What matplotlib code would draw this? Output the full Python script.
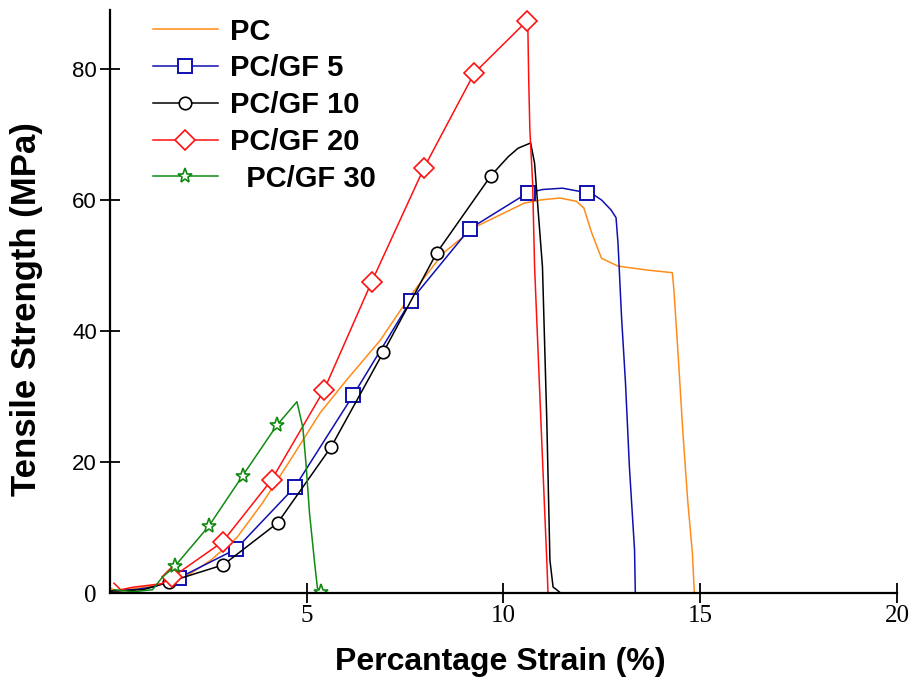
import matplotlib
matplotlib.use("Agg")
import matplotlib.pyplot as plt

# values
pc_x = [0.0, 0.17, 0.42, 1.26, 1.90, 2.56, 3.23, 3.87, 4.53, 5.34, 6.01, 6.87, 7.61,
        8.47, 9.29, 10.52, 10.94, 11.43, 11.85, 12.04, 12.24, 12.49, 12.91, 13.65,
        14.29, 14.33, 14.43, 14.56, 14.68, 14.80, 14.85]
pc_y = [0.8, 0.2, 0.5, 1.2, 2.4, 5.0, 8.5, 13.7, 19.8, 27.5, 32.5, 38.6, 45.2,
        51.9, 55.9, 59.5, 60.0, 60.3, 59.8, 58.8, 55.0, 51.1, 49.9, 49.3,
        48.9, 46.3, 37.1, 24.4, 14.2, 6.1, 0.0]

gf5_x = [0.0, 0.6, 1.1, 1.75, 3.20, 4.70, 6.18, 7.64, 9.14, 10.62, 11.0, 11.5, 12.12,
         12.29, 12.49, 12.73, 12.86, 12.91, 13.0, 13.1, 13.2, 13.33, 13.35]
gf5_y = [0.3, 0.5, 0.9, 2.3, 6.7, 16.2, 30.2, 44.6, 55.6, 61.1, 61.6, 61.8, 61.1,
         60.8, 60.0, 58.5, 57.3, 53.4, 42.1, 32.1, 19.2, 6.6, 0.0]
gf5_marks = [3, 4, 5, 6, 7, 8, 9, 12]

gf10_x = [0.0, 0.84, 1.50, 2.88, 4.26, 5.62, 6.95, 8.30, 9.68, 10.12, 10.37, 10.69,
          10.79, 10.86, 10.99, 11.1, 11.18, 11.26, 11.33, 11.45]
gf10_y = [0.3, 0.5, 1.7, 4.3, 10.7, 22.3, 36.8, 51.9, 63.7, 66.6, 67.9, 68.7,
          65.6, 60.0, 49.8, 26.4, 5.0, 0.9, 0.6, 0.0]
gf10_marks = [2, 3, 4, 5, 6, 7, 8]

gf20_x = [0.1, 0.27, 0.6, 1.3, 1.58, 2.86, 4.11, 5.44, 6.65, 7.98, 9.26, 10.59,
          10.62, 10.64, 10.67, 10.74, 10.79, 10.96, 11.11, 11.13]
gf20_y = [1.5, 0.5, 0.9, 1.4, 2.4, 7.8, 17.3, 31.0, 47.5, 64.9, 79.4, 87.3,
          86.0, 78.6, 70.7, 62.6, 49.8, 24.9, 3.5, 0.0]
gf20_marks = [4, 5, 6, 7, 8, 9, 10, 11]

gf30_x = [0.1, 0.6, 1.08, 1.33, 1.65, 2.51, 3.37, 4.24, 4.75, 4.9, 4.98, 5.07,
          5.2, 5.27, 5.35, 5.5]
gf30_y = [0.5, 0.2, 0.5, 2.4, 4.1, 10.2, 17.9, 25.6, 29.2, 25.3, 19.8, 12.2,
          4.6, 0.8, 0.2, 0.0]
gf30_marks = [4, 5, 6, 7, 14]

labels = ["PC", "PC/GF 5", "PC/GF 10", "PC/GF 20", "  PC/GF 30"]
x_ticks = [5, 10, 15, 20]
y_ticks = [0, 20, 40, 60, 80]

W, H = 912, 684
fig = plt.figure(figsize=(W / 100, H / 100), dpi=100)
ax = fig.add_axes([110 / W, (H - 593) / H, (897 - 110) / W, (593 - 10) / H])

lw = 1.1
ax.plot(pc_x, pc_y, color="#ff8c1a", lw=lw, label=labels[0])
ax.plot(gf5_x, gf5_y, color="#1010b0", lw=lw, marker="s", ms=9.5, mfc="white",
        mec="#1010b0", mew=1.4, markevery=gf5_marks, label=labels[1])
ax.plot(gf10_x, gf10_y, color="black", lw=lw, marker="o", ms=9, mfc="white",
        mec="black", mew=1.2, markevery=gf10_marks, label=labels[2])
ax.plot(gf20_x, gf20_y, color="#ff1010", lw=lw, marker="D", ms=10, mfc="white",
        mec="#ff1010", mew=1.2, markevery=gf20_marks, label=labels[3])
ax.plot(gf30_x, gf30_y, color="#108a10", lw=lw, marker="*", ms=11, mfc="white",
        mec="#108a10", mew=1.2, markevery=gf30_marks, label=labels[4])

ax.set_xlim(0, 20)
ax.set_ylim(0, 89)
for s in ["top", "right"]:
    ax.spines[s].set_visible(False)
for s in ["left", "bottom"]:
    ax.spines[s].set_linewidth(1.6)

ax.set_xticks(x_ticks)
ax.set_xticklabels([str(t) for t in x_ticks], family="Liberation Serif", fontsize=18)
ax.set_yticks(y_ticks)
ax.set_yticklabels([str(t) for t in y_ticks], family="Liberation Sans", fontsize=16)
ax.get_yticklabels()[0].set_family("Liberation Serif")
ax.get_yticklabels()[0].set_fontsize(18)
ax.tick_params(axis="both", direction="inout", length=15, width=1.3, colors="black")
ax.tick_params(axis="x", pad=1)
ax.tick_params(axis="y", pad=2)
ax.yaxis.get_major_ticks()[0].tick1line.set_visible(False)

fig.text(500 / W, 1 - 662 / H, "Percantage Strain (%)", ha="center", va="center",
         family="Liberation Sans", weight="bold", fontsize=23)
fig.text(27 / W, 1 - 309 / H, "Tensile Strength (MPa)", ha="center", va="center",
         rotation=90, family="Liberation Sans", weight="bold", fontsize=25)

leg = ax.legend(loc="upper left", bbox_to_anchor=(138 / W, 1 - 3 / H),
                bbox_transform=fig.transFigure, frameon=False, borderpad=0,
                handlelength=2.25, handletextpad=0.4, labelspacing=0.3,
                prop={"family": "Liberation Sans", "weight": "bold", "size": 21})

fig.savefig("out.png", dpi=100)
